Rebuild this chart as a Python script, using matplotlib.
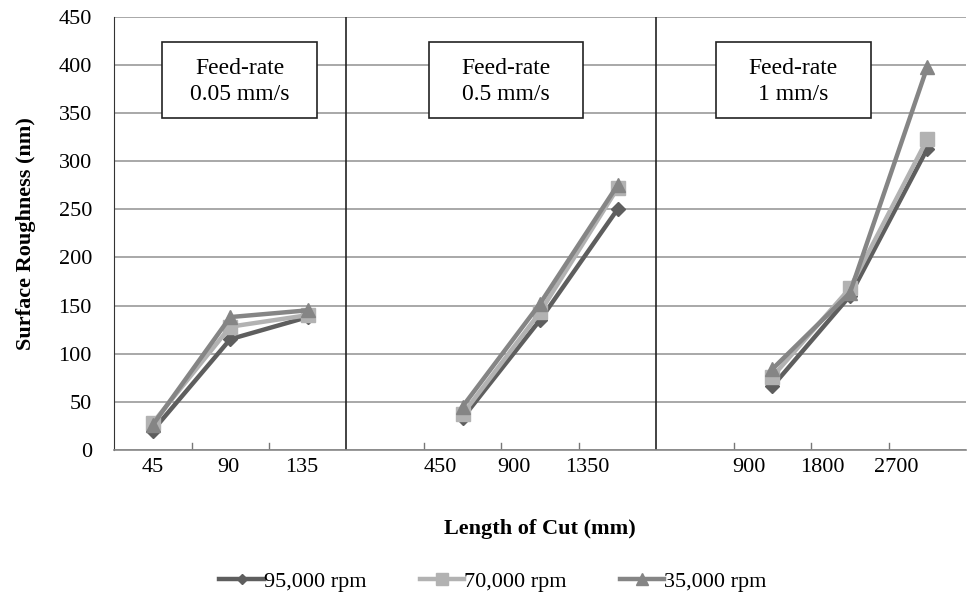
import matplotlib
matplotlib.use('Agg')
import matplotlib.pyplot as plt
from matplotlib.patches import Rectangle
import numpy as np

plt.rcParams['font.family'] = ['Liberation Serif', 'DejaVu Serif']

# categories along x (blank slots separate the three feed-rate groups)
groups = [['45', '90', '135'], ['450', '900', '1350'], ['900', '1800', '2700']]
feed_rates = ['Feed-rate\n0.05 mm/s', 'Feed-rate\n0.5 mm/s', 'Feed-rate\n1 mm/s']
series_names = ['95,000 rpm', '70,000 rpm', '35,000 rpm']

rough_95k = [[20, 115, 138], [33, 135, 250], [66, 160, 313]]
rough_70k = [[28, 128, 140], [37, 143, 272], [76, 168, 323]]
rough_35k = [[26, 138, 145], [45, 152, 275], [84, 163, 398]]

colors = ['#5e5e5e', '#b2b2b2', '#858585']
markers = ['D', 's', '^']
msizes = [7, 10, 10]

fig = plt.figure(figsize=(9.67, 6.03), dpi=100)
ax = fig.add_axes([0.118, 0.254, 0.881, 0.718])

# x slot of each group: first group starts at 0, others after a blank slot
starts = [0, 4, 8]
for vals, c, m, ms, name in zip([rough_95k, rough_70k, rough_35k], colors, markers, msizes, series_names):
    for g, (s, v) in enumerate(zip(starts, vals)):
        xs = np.arange(s, s + len(v))
        ax.plot(xs, v, color=c, lw=3.2, marker=m, ms=ms, mec=c, mfc=c,
                label=name if g == 0 else None, zorder=3)

ax.set_xlim(-0.5, 10.5)
ax.set_ylim(0, 450)
ax.set_yticks(np.arange(0, 451, 50))
ax.yaxis.grid(True, color='#9a9a9a', lw=1.2)
ax.set_axisbelow(True)
ax.tick_params(axis='y', length=0, labelsize=16, pad=16)

# category labels (as placed in the original figure)
label_pos = [0, 0.97, 1.92, 3.71, 4.66, 5.61, 7.70, 8.65, 9.60]
ax.set_xticks(label_pos)
ax.set_xticklabels([t for g in groups for t in g], fontsize=16)
ax.tick_params(axis='x', length=0, pad=6)
# small boundary ticks inside the plot
for b in [0.5, 1.5, 3.5, 4.5, 5.5, 7.5, 8.5, 9.5]:
    ax.plot([b, b], [0, 7], color='#777777', lw=1, zorder=2)
for sep in [2.5, 6.5]:
    ax.axvline(sep, color='#222222', lw=1.2, zorder=2)

for sp in ['top', 'right']:
    ax.spines[sp].set_visible(False)
ax.spines['left'].set_color('#333333')
ax.spines['bottom'].set_color('#888888')
ax.spines['bottom'].set_linewidth(1.2)

# feed-rate boxes
box_left = [0.12, 3.56, 7.27]
box_w = 2.0
for x0, txt in zip(box_left, feed_rates):
    ax.add_patch(Rectangle((x0, 345), box_w, 79, fc='white', ec='#222222', lw=1.2, zorder=4))
    ax.text(x0 + box_w / 2, 383, txt, ha='center', va='center', fontsize=17,
            linespacing=1.3, zorder=5)

ax.set_xlabel('Length of Cut (mm)', fontsize=16, fontweight='bold', labelpad=30)
ax.set_ylabel('Surface Roughness (nm)', fontsize=16, fontweight='bold', labelpad=16)

fig.legend(loc='center', bbox_to_anchor=(0.51, 0.035), ncol=3, frameon=False,
           fontsize=16, handlelength=2.0, handletextpad=0.0, columnspacing=2.4, markerscale=0.8)

fig.savefig('out.png', dpi=100)
